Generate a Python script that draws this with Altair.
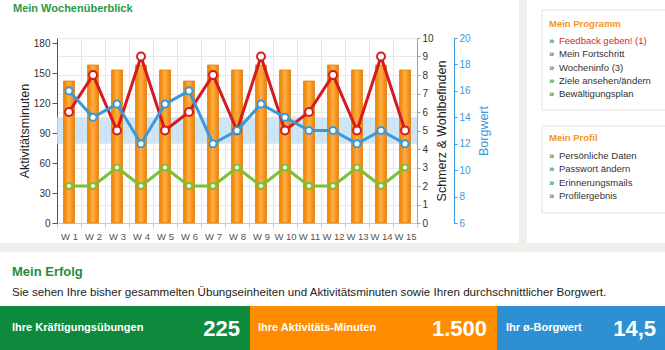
import altair as alt
import pandas as pd

# ---------------- data ----------------
weeks = ["W 1", "W 2", "W 3", "W 4", "W 5", "W 6", "W 7", "W 8",
         "W 9", "W 10", "W 11", "W 12", "W 13", "W 14", "W 15"]
minutes = [142, 158, 153, 158, 153, 142, 158, 153, 158, 153, 142, 158, 153, 158, 153]
pain = [6, 8, 5, 9, 5, 6, 8, 5, 9, 5, 6, 8, 5, 9, 5]
wellbeing = [2, 2, 3, 2, 3, 2, 2, 3, 2, 3, 2, 2, 3, 2, 3]
borg = [16, 14, 15, 12, 15, 16, 12, 13, 15, 14, 13, 13, 12, 13, 12]
borg_band = [12, 14]

ticks_minutes = [0, 30, 60, 90, 120, 150, 180]
ticks_pain = [0, 1, 2, 3, 4, 5, 6, 7, 8, 9, 10]
ticks_borg = [6, 8, 10, 12, 14, 16, 18, 20]

menu_program = ["Feedback geben! (1)", "Mein Fortschritt", "Wocheninfo (3)",
                "Ziele ansehen/ändern", "Bewältigungsplan"]
menu_profile = ["Persönliche Daten", "Passwort ändern", "Erinnerungsmails", "Profilergebnis"]
totals_labels = ["Ihre Kräftigungsübungen", "Ihre Aktivitäts-Minuten", "Ihr ø-Borgwert"]
totals_values = ["225", "1.500", "14,5"]

df = pd.DataFrame({"Woche": weeks, "Minuten": minutes, "Schmerz": pain,
                   "Wohlbefinden": wellbeing, "Borg": borg})
band_df = pd.DataFrame({"lo": [borg_band[0]], "hi": [borg_band[1]]})
one = pd.DataFrame({"k": [0]})

# ---------------- layout ----------------
OX, OY = 57, 38
W, H = 360, 185
FONT = "Liberation Sans, Arial, sans-serif"
GREEN = "#2A9A45"
ORANGE = "#F7941D"
RED = "#D71920"
BLUE = "#3A9AD9"
LGREEN = "#7DC133"


def txt(s, x, y, size=11, color="#222", weight="normal", align="left", font=FONT):
    return alt.Chart(one).mark_text(
        text=s, align=align, baseline="middle", fontSize=size, color=color,
        fontWeight=weight, font=font
    ).encode(x=alt.value(x - OX), y=alt.value(y - OY))


def box(x1, x2, y1, y2, fill, stroke=None):
    kw = dict(fill=fill)
    if stroke:
        kw.update(stroke=stroke, strokeWidth=1)
    return alt.Chart(one).mark_rect(**kw).encode(
        x=alt.value(x1 - OX), x2=alt.value(x2 - OX),
        y=alt.value(y1 - OY), y2=alt.value(y2 - OY))


xenc = alt.X("Woche:N", sort=weeks,
             scale=alt.Scale(paddingInner=0, paddingOuter=0),
             axis=alt.Axis(title=None, labelAngle=0, tickBand="extent", grid=True,
                           gridColor="#E8E8E8", domainColor="#C8C8C8", tickColor="#C8C8C8",
                           tickSize=4, labelFontSize=9.5, labelColor="#555",
                           labelPadding=4, zindex=0))

band = alt.Chart(band_df).mark_rect(color="#C6E1F4", opacity=0.85).encode(
    x=alt.value(0), x2=alt.value("width"),
    y=alt.Y("lo:Q", scale=alt.Scale(domain=[6, 20], nice=False), axis=None),
    y2="hi:Q")

grad = alt.LinearGradient(
    gradient="linear",
    stops=[alt.GradientStop(color="#EC8000", offset=0),
           alt.GradientStop(color="#FFAE45", offset=0.5),
           alt.GradientStop(color="#EC8000", offset=1)],
    x1=0, x2=1, y1=0, y2=0)

bars = alt.Chart(df).mark_bar(size=11, color=grad, stroke="#E07800", strokeWidth=0.7).encode(
    x=xenc,
    y=alt.Y("Minuten:Q", scale=alt.Scale(domain=[0, 185], nice=False),
            axis=alt.Axis(orient="left", values=ticks_minutes, title="Aktivitätsminuten",
                          grid=False, domainColor="#555", tickColor="#555", tickSize=5,
                          labelFontSize=10, labelColor="#333", titleFontSize=12.5,
                          titleFontWeight="normal", titleColor="#222", titlePadding=2)))


def series(field, color, size, axis):
    return alt.Chart(df).mark_line(
        color=color, strokeWidth=3,
        point=alt.OverlayMarkDef(filled=True, fill="white", stroke=color,
                                 strokeWidth=2, size=size)
    ).encode(x=xenc, y=alt.Y(f"{field}:Q", **axis))


green = series("Wohlbefinden", LGREEN, 36,
               dict(scale=alt.Scale(domain=[0, 10], nice=False), axis=None))
red = series("Schmerz", RED, 62,
             dict(scale=alt.Scale(domain=[0, 10], nice=False),
                  axis=alt.Axis(orient="right", values=ticks_pain, grid=True,
                                gridColor="#EAEAEA", zindex=0,
                                title="Schmerz & Wohlbefinden", titleAngle=270,
                                titleBaseline="top",
                                domainColor="#A0A0A0", tickColor="#A0A0A0", tickSize=3,
                                labelFontSize=10, labelColor="#333", titleFontSize=12.5,
                                titleFontWeight="normal", titleColor="#222",
                                titlePadding=2)))
blue = series("Borg", BLUE, 50,
              dict(scale=alt.Scale(domain=[6, 20], nice=False),
                   axis=alt.Axis(orient="right", offset=37, values=ticks_borg,
                                 title="Borgwert", titleAngle=270, titleBaseline="top",
                                 domainColor=BLUE, tickColor=BLUE, tickSize=3,
                                 labelFontSize=10, labelColor=BLUE, titleFontSize=12.5,
                                 titleFontWeight="normal", titleColor=BLUE,
                                 titlePadding=7)))

# ---------------- decorations ----------------
deco_back = [
    box(519, 527, 0, 243, "#EFEFEB"),
    box(0, 665, 243, 252, "#EFEFEB"),
    box(542, 672, 10, 110, "white", "#E0E0E0"),
    box(542, 672, 126, 213, "white", "#E0E0E0"),
    box(0, 250, 306, 352, "#0E8A3C"),
    box(250, 497, 306, 352, "#FF8C00"),
    box(497, 667, 306, 352, "#2E8FD3"),
]

deco_text = [
    txt("Mein Wochenüberblick", 13, 9, 11, GREEN, "bold"),
    txt("Mein Programm", 549, 24, 9.5, ORANGE, "bold"),
    txt("Mein Profil", 549, 138, 9.5, ORANGE, "bold"),
    txt("Mein Erfolg", 12, 272, 13, "#1E8E3E", "bold"),
    txt("Sie sehen Ihre bisher gesammelten Übungseinheiten und Aktivitätsminuten sowie "
        "Ihren durchschnittlicher Borgwert.", 12, 293, 11.6, "#222"),
]
prog_y = [41, 54, 68, 81, 94]
for i, (label, yy) in enumerate(zip(menu_program, prog_y)):
    deco_text.append(txt("»", 549, yy, 9.5, GREEN, "bold"))
    deco_text.append(txt(label, 559, yy, 9.5, "#D9262A" if i == 0 else "#333"))
prof_y = [156, 169, 183, 196]
for label, yy in zip(menu_profile, prof_y):
    deco_text.append(txt("»", 549, yy, 9.5, GREEN, "bold"))
    deco_text.append(txt(label, 559, yy, 9.5, "#333"))

label_x = [12, 258, 506]
value_x = [240, 487, 656]
for lab, val, lx, vx in zip(totals_labels, totals_values, label_x, value_x):
    deco_text.append(txt(lab, lx, 328, 11, "white", "bold"))
    deco_text.append(txt(val, vx, 329, 22, "white", "bold", align="right"))

chart = alt.layer(
    *deco_back, band, bars, green, red, blue, *deco_text
).resolve_scale(
    y="independent"
).properties(
    width=W, height=H,
    autosize=alt.AutoSizeParams(type="none"),
    padding={"left": OX, "top": OY, "right": 665 - OX - W, "bottom": 350 - OY - H},
    background="white",
).configure_view(
    stroke=None
).configure_axis(
    labelFont=FONT, titleFont=FONT
)

chart.save("out.html", embed_options={"renderer": "svg", "actions": False})
